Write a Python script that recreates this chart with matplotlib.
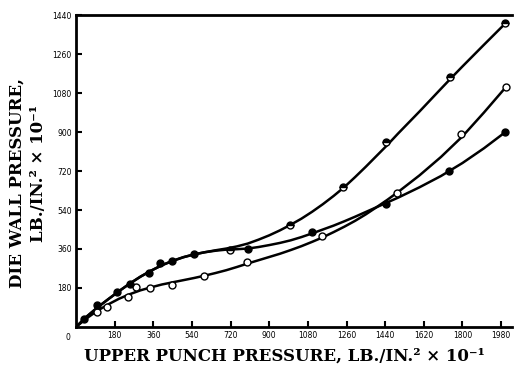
import numpy as np
import matplotlib
matplotlib.use('Agg')
from matplotlib import pyplot as plt

# smooth curves (upper punch vs die wall pressure)
curve_a_x = [0, 50, 100, 150, 200, 250, 300, 350, 400, 450, 500, 550, 600, 650, 700, 750,
             800, 850, 900, 950, 1000, 1050, 1100, 1150, 1200, 1250, 1300, 1350, 1400,
             1450, 1500, 1600, 1700, 1750, 1800, 1900, 2000]
curve_a_y = [0, 48, 90, 128, 165, 200, 232, 260, 285, 305, 322, 335, 345, 354, 362, 372,
             385, 403, 423, 446, 472, 500, 532, 567, 605, 646, 692, 740, 790,
             840, 893, 995, 1100, 1152, 1203, 1303, 1402]

curve_b_x = [0, 50, 100, 150, 200, 250, 300, 350, 400, 450, 500, 550, 600, 650, 700, 750,
             800, 850, 900, 950, 1000, 1050, 1100, 1150, 1200, 1250, 1300, 1350,
             1400, 1450, 1500, 1600, 1700, 1800, 1900, 2000]
curve_b_y = [0, 40, 75, 104, 130, 151, 169, 183, 196, 206, 216, 226, 237, 249, 262, 277,
             293, 308, 323, 338, 355, 373, 393, 414, 438, 463, 490, 520,
             553, 587, 623, 700, 785, 880, 990, 1105]

curve_c_x = [0, 50, 100, 150, 200, 250, 300, 350, 400, 450, 500, 550, 600, 650, 700, 750,
             800, 850, 900, 950, 1000, 1050, 1100, 1150, 1200, 1250, 1300, 1350, 1400,
             1450, 1500, 1600, 1700, 1800, 1900, 2000]
curve_c_y = [0, 48, 90, 128, 165, 200, 232, 260, 285, 305, 322, 335, 345, 352, 357, 359,
             362, 369, 378, 388, 400, 415, 432, 450, 468, 488, 509, 531, 553,
             575, 597, 645, 697, 757, 825, 900]

# measured points
pts_a_x = [716, 995, 1242, 1443, 1744, 2000]
pts_a_y = [356, 472, 648, 856, 1152, 1402]

pts_b_x = [98, 144, 242, 279, 344, 447, 595, 795, 1144, 1493, 1795, 2005]
pts_b_y = [69, 93, 139, 185, 178, 192, 235, 301, 421, 620, 893, 1106]

pts_c_x = [37, 98, 190, 250, 340, 390, 447, 549, 800, 1098, 1442, 1739, 2000]
pts_c_y = [37, 100, 160, 200, 250, 296, 305, 335, 358, 437, 567, 722, 898]

xticks = [180, 360, 540, 720, 900, 1080, 1260, 1440, 1620, 1800, 1980]
yticks = [180, 360, 540, 720, 900, 1080, 1260, 1440]

fig = plt.figure(figsize=(5.17, 3.69), dpi=100)
ax = fig.add_axes([0.147, 0.114, 0.843, 0.845])

lw = 1.8
ax.plot(curve_a_x, curve_a_y, color='k', lw=lw, solid_capstyle='round', solid_joinstyle='round')
ax.plot(curve_b_x, curve_b_y, color='k', lw=lw, solid_capstyle='round', solid_joinstyle='round')
ax.plot(curve_c_x, curve_c_y, color='k', lw=lw, solid_capstyle='round', solid_joinstyle='round')

ax.plot(pts_a_x, pts_a_y, 'o', ms=5, mfc='k', mec='k', fillstyle='top',
        markerfacecoloralt='white', mew=1.0)
ax.plot(pts_b_x, pts_b_y, 'o', ms=5, mfc='white', mec='k', mew=1.0)
ax.plot(pts_c_x, pts_c_y, 'o', ms=5, mfc='k', mec='k', mew=1.0)

ax.set_xlim(0, 2030)
ax.set_ylim(0, 1440)
ax.spines['right'].set_visible(False)
for s in ['left', 'top', 'bottom']:
    ax.spines[s].set_linewidth(2)

ax.set_xticks(xticks)
ax.set_yticks(yticks)
ax.set_xticklabels([str(v) for v in xticks], fontsize=5.5, family='DejaVu Sans')
ax.set_yticklabels([str(v) for v in yticks], fontsize=5.5, family='DejaVu Sans')
ax.tick_params(direction='in', length=4, width=1.5, pad=3)
ax.text(-0.012, -0.02, '0', transform=ax.transAxes, ha='right', va='top', fontsize=5.5)

lab = dict(family='DejaVu Serif', fontweight='bold', fontsize=12)
fig.text(0.55, 0.036, 'UPPER PUNCH PRESSURE, LB./IN.² × 10⁻¹', ha='center', va='center', **lab)
fig.text(0.033, 0.504, 'DIE WALL PRESSURE,', rotation=90, ha='center', va='center', **lab)
fig.text(0.075, 0.53, 'LB./IN.² × 10⁻¹', rotation=90, ha='center', va='center', **lab)

fig.savefig('out.png', dpi=100)
